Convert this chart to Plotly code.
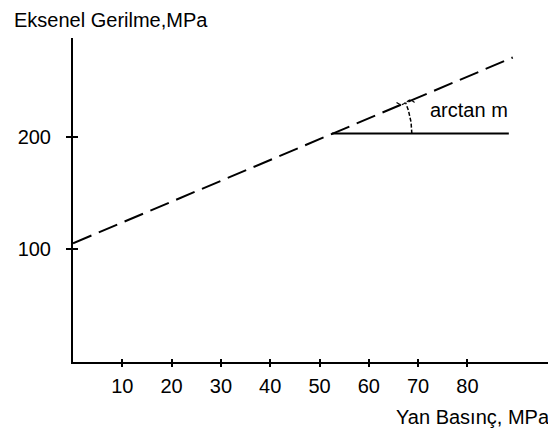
import numpy as np
import plotly.graph_objects as go

# Data
line_x = [0, 89.2]          # dashed envelope line (Yan Basınç, MPa)
line_y = [105, 271]         # Eksenel Gerilme, MPa
ref_x = [52.5, 88.4]        # horizontal reference line
ref_y = [203, 203]
x_ticks = [10, 20, 30, 40, 50, 60, 70, 80]
y_ticks = [100, 200]
angle_label = "arctan m"
x_title = "Yan Basınç, MPa"
y_title = "Eksenel Gerilme,MPa"

X_RANGE = [0, 96.75]
Y_RANGE = [-1, 288.4]
FONT = "Liberation Sans, Arial, sans-serif"
FS = 20

# page offset of the body margin (8px) is compensated in the sizes below
W, H = 477, 324
sx = W / (X_RANGE[1] - X_RANGE[0])
sy = H / (Y_RANGE[1] - Y_RANGE[0])
slope = (line_y[1] - line_y[0]) / (line_x[1] - line_x[0])
theta = np.arctan(slope * sy / sx)
r = 80
t = np.linspace(0, theta, 30)
arc_x = ref_x[0] + r * np.cos(t) / sx
arc_y = ref_y[0] + r * np.sin(t) / sy
# small tilde at arc top
tp = np.linspace(-1, 1, 15)
tip_x = arc_x[-1] + (tp * 9) / sx
tip_y = arc_y[-1] + (2.5 * np.sin(tp * np.pi)) / sy

fig = go.Figure()
fig.add_trace(go.Scatter(x=line_x, y=line_y, mode="lines",
                         line=dict(color="black", width=2, dash="20px,8px"),
                         hoverinfo="skip"))
fig.add_trace(go.Scatter(x=ref_x, y=ref_y, mode="lines",
                         line=dict(color="black", width=2), hoverinfo="skip"))
fig.add_trace(go.Scatter(x=arc_x, y=arc_y, mode="lines",
                         line=dict(color="black", width=1.5, dash="4px,2px"),
                         hoverinfo="skip"))
fig.add_trace(go.Scatter(x=tip_x, y=tip_y, mode="lines",
                         line=dict(color="black", width=1.2, dash="4px,2px"),
                         hoverinfo="skip"))
# invisible trace for overlay axes (inside tick halves)
fig.add_trace(go.Scatter(x=[0], y=[0], xaxis="x2", yaxis="y2", mode="markers",
                         marker=dict(opacity=0), hoverinfo="skip"))

fig.update_layout(
    width=548, height=422,
    margin=dict(l=65, r=6, t=30, b=68),
    paper_bgcolor="white", plot_bgcolor="white",
    showlegend=False,
    font=dict(family=FONT, size=FS, color="black"),
    xaxis=dict(range=X_RANGE, showgrid=False, zeroline=False,
               showline=True, linecolor="black", linewidth=2,
               tickvals=x_ticks, ticktext=[str(v) for v in x_ticks],
               ticks="outside", ticklen=3, tickwidth=1.5, tickcolor="black",
               ticklabelstandoff=2,
               tickfont=dict(family=FONT, size=FS)),
    yaxis=dict(range=Y_RANGE, showgrid=False, zeroline=False,
               showline=True, linecolor="black", linewidth=2,
               tickvals=y_ticks, ticktext=[str(v) for v in y_ticks],
               ticks="outside", ticklen=5, tickwidth=1.5, tickcolor="black",
               ticklabelstandoff=11,
               tickfont=dict(family=FONT, size=FS)),
    xaxis2=dict(range=X_RANGE, overlaying="x", showgrid=False, zeroline=False,
                showline=False, tickvals=x_ticks, showticklabels=False,
                ticks="inside", ticklen=3, tickwidth=1.5, tickcolor="black"),
    yaxis2=dict(range=Y_RANGE, overlaying="y", showgrid=False, zeroline=False,
                showline=False, tickvals=y_ticks, showticklabels=False,
                ticks="inside", ticklen=5, tickwidth=1.5, tickcolor="black"),
    annotations=[
        dict(text=y_title, xref="paper", yref="paper",
             x=(12 - 73) / W, y=(362 - 20) / H, xanchor="left", yanchor="middle",
             showarrow=False, font=dict(family=FONT, size=FS)),
        dict(text=x_title, xref="paper", yref="paper",
             x=(552 - 73) / W, y=(362 - 417) / H, xanchor="right", yanchor="middle",
             showarrow=False, font=dict(family=FONT, size=FS)),
        dict(text=angle_label, xref="paper", yref="paper",
             x=(428 - 73) / W, y=(362 - 110) / H, xanchor="left", yanchor="middle",
             showarrow=False, font=dict(family=FONT, size=FS)),
    ],
)

fig.write_html("out.html")
